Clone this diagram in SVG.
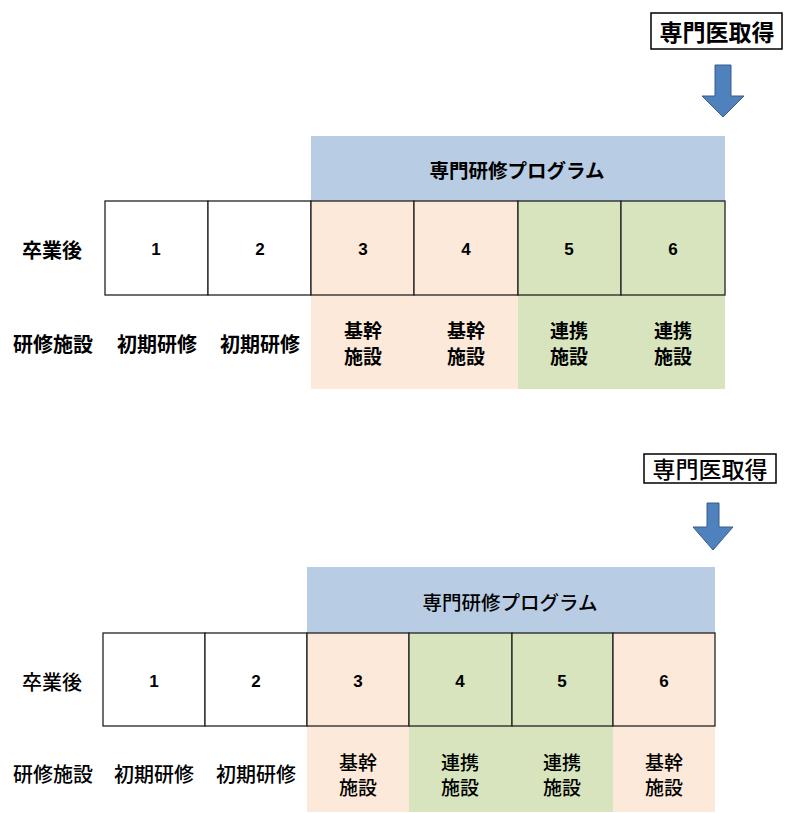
<svg xmlns="http://www.w3.org/2000/svg" width="786" height="813" viewBox="0 0 786 813">
<style>
text{font-family:"Liberation Sans","Noto Sans CJK JP",sans-serif;fill:#000;text-anchor:middle;dominant-baseline:central}
.b{font-weight:bold}
.m{font-weight:500}
.jp{font-family:"Noto Sans CJK JP",sans-serif}
.lbl{font-size:20px}
.lb2{font-size:19px}
.ttl{font-size:19.5px}
.num{font-size:17px}
.goal{font-size:23px}
.cell{stroke:#222;stroke-width:1.3}
.w{fill:#fff}
.p{fill:#FDE9D9}
.g{fill:#D7E4BD}
.h{fill:#B8CCE4}
.arrow{fill:#4F81BD;stroke:#385D8A;stroke-width:1}
.box{fill:#fff;stroke:#000;stroke-width:1.5}
</style>

<!-- ===== Top diagram ===== -->
<g id="top-goal">
<rect class="box" x="651" y="13" width="131" height="36"/>
<text class="jp b goal" x="717" y="31">専門医取得</text>
</g>
<g id="connectors">
<path class="arrow" d="M715,65 H731 V96 H744 L723,117 L702,96 H715 Z"/>
<path class="arrow" d="M707,503 H719 V527 H733 L713,550 L693,527 H707 Z"/>
</g>
<g id="top-program">
<rect class="h" x="311" y="136" width="414" height="65"/>
<text class="jp b ttl" x="517" y="169">専門研修プログラム</text>
</g>
<g id="top-bg">
<rect class="p" x="311" y="295" width="207" height="94"/>
<rect class="g" x="518" y="295" width="207" height="94"/>
</g>
<g id="top-row-label">
<text class="jp b lbl" x="52" y="249">卒業後</text>
<text class="jp b lbl" x="53" y="343">研修施設</text>
</g>
<g id="top-y1">
<rect class="cell w" x="105" y="201" width="103" height="94"/>
<text class="b num" x="156" y="249">1</text>
<text class="jp b lbl" x="157" y="343">初期研修</text>
</g>
<g id="top-y2">
<rect class="cell w" x="208" y="201" width="103" height="94"/>
<text class="b num" x="260" y="249">2</text>
<text class="jp b lbl" x="260" y="343">初期研修</text>
</g>
<g id="top-y3">
<rect class="cell p" x="311" y="201" width="103" height="94"/>
<text class="b num" x="363" y="249">3</text>
<text class="jp b lb2" x="363" y="329">基幹</text>
<text class="jp b lb2" x="363" y="355">施設</text>
</g>
<g id="top-y4">
<rect class="cell p" x="414" y="201" width="104" height="94"/>
<text class="b num" x="466" y="249">4</text>
<text class="jp b lb2" x="466" y="329">基幹</text>
<text class="jp b lb2" x="466" y="355">施設</text>
</g>
<g id="top-y5">
<rect class="cell g" x="518" y="201" width="103" height="94"/>
<text class="b num" x="569" y="249">5</text>
<text class="jp b lb2" x="569" y="329">連携</text>
<text class="jp b lb2" x="569" y="355">施設</text>
</g>
<g id="top-y6">
<rect class="cell g" x="621" y="201" width="104" height="94"/>
<text class="b num" x="673" y="249">6</text>
<text class="jp b lb2" x="673" y="329">連携</text>
<text class="jp b lb2" x="673" y="355">施設</text>
</g>

<!-- ===== Bottom diagram ===== -->
<g id="bottom-goal">
<rect class="box" x="644" y="454" width="132" height="29"/>
<text class="jp m goal" x="710" y="468">専門医取得</text>
</g>
<g id="bottom-program">
<rect class="h" x="307" y="567" width="408" height="66"/>
<text class="jp m ttl" x="510" y="601">専門研修プログラム</text>
</g>
<g id="bottom-bg">
<rect class="p" x="307" y="726" width="102" height="86"/>
<rect class="g" x="409" y="726" width="204" height="86"/>
<rect class="p" x="613" y="726" width="102" height="86"/>
</g>
<g id="bottom-row-label">
<text class="jp m lbl" x="52" y="681">卒業後</text>
<text class="jp m lbl" x="53" y="773">研修施設</text>
</g>
<g id="bottom-y1">
<rect class="cell w" x="103" y="633" width="102" height="93"/>
<text class="b num" x="154" y="681">1</text>
<text class="jp m lbl" x="154" y="773">初期研修</text>
</g>
<g id="bottom-y2">
<rect class="cell w" x="205" y="633" width="102" height="93"/>
<text class="b num" x="256" y="681">2</text>
<text class="jp m lbl" x="256" y="773">初期研修</text>
</g>
<g id="bottom-y3">
<rect class="cell p" x="307" y="633" width="102" height="93"/>
<text class="b num" x="358" y="681">3</text>
<text class="jp m lb2" x="358" y="761">基幹</text>
<text class="jp m lb2" x="358" y="786">施設</text>
</g>
<g id="bottom-y4">
<rect class="cell g" x="409" y="633" width="103" height="93"/>
<text class="b num" x="460" y="681">4</text>
<text class="jp m lb2" x="460" y="761">連携</text>
<text class="jp m lb2" x="460" y="786">施設</text>
</g>
<g id="bottom-y5">
<rect class="cell g" x="512" y="633" width="101" height="93"/>
<text class="b num" x="562" y="681">5</text>
<text class="jp m lb2" x="562" y="761">連携</text>
<text class="jp m lb2" x="562" y="786">施設</text>
</g>
<g id="bottom-y6">
<rect class="cell p" x="613" y="633" width="102" height="93"/>
<text class="b num" x="664" y="681">6</text>
<text class="jp m lb2" x="664" y="761">基幹</text>
<text class="jp m lb2" x="664" y="786">施設</text>
</g>
</svg>
